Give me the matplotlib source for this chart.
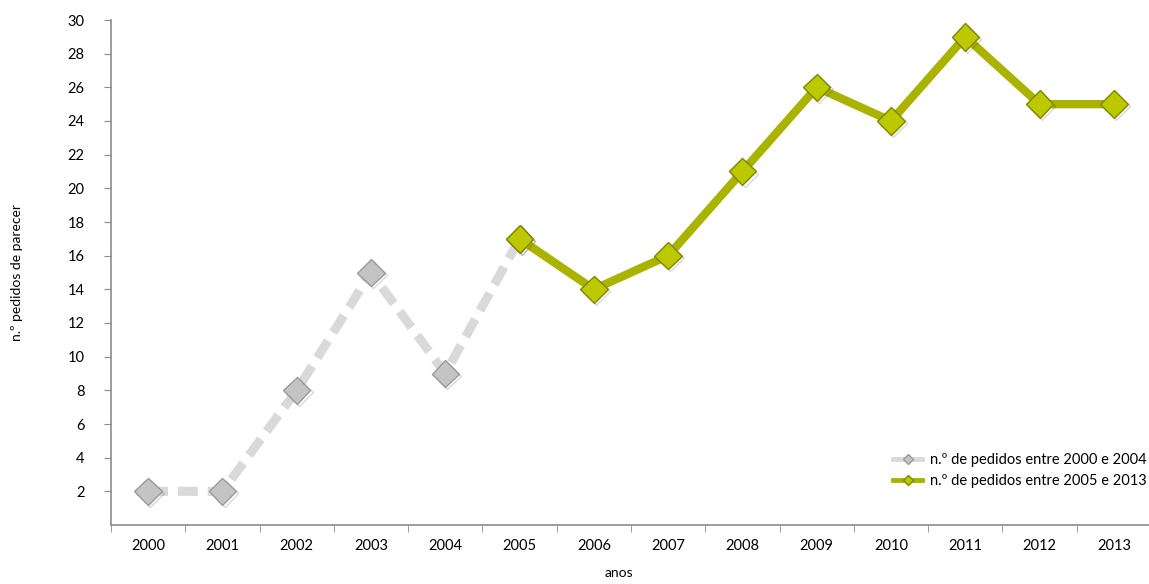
import matplotlib.pyplot as plt
import matplotlib.patheffects as pe

anos = ['2000', '2001', '2002', '2003', '2004', '2005', '2006',
        '2007', '2008', '2009', '2010', '2011', '2012', '2013']

# first period: 2000 to 2005 (joins the second series at 2005)
pedidos_antes = [2, 2, 8, 15, 9, 17]
# second period: 2005 to 2013
pedidos_depois = [17, 14, 16, 21, 26, 24, 29, 25, 25]

yticks = list(range(2, 31, 2))

plt.rcParams['font.family'] = ['Lato', 'DejaVu Sans']
fs = 10.5

fig = plt.figure(figsize=(11.49, 5.84), dpi=100)
ax = fig.add_axes([111 / 1149, 59 / 584, 1040 / 1149, 505 / 584])

x1 = list(range(len(pedidos_antes)))
x2 = list(range(5, 5 + len(pedidos_depois)))

shadow = [pe.SimpleLineShadow(offset=(1.5, -1.5), alpha=0.15, shadow_color='k'), pe.Normal()]

ax.plot(x1, pedidos_antes, color='#d9d9d9', lw=6.5, dashes=(2.2, 1.1),
        solid_capstyle='butt', zorder=2)
ax.plot(x1, pedidos_antes, ls='none', marker='D', ms=14, mfc='#c4c4c4',
        mec='#9a9a9a', mew=1, zorder=3, path_effects=shadow)

ax.plot(x2, pedidos_depois, color='#a9b300', lw=6, solid_joinstyle='miter', zorder=4)
ax.plot(x2, pedidos_depois, ls='none', marker='D', ms=14, mfc='#bcc800',
        mec='#7f8700', mew=1, zorder=5, path_effects=shadow)

ax.set_xlim(-0.5, 13.5)
ax.set_ylim(0, 30)
ax.set_yticks(yticks)
ax.set_yticklabels([str(v) for v in yticks])
ax.set_xticks(range(len(anos)))
ax.set_xticklabels(anos)
ax.set_xticks([i - 0.5 for i in range(len(anos) + 1)], minor=True)

for s in ['top', 'right']:
    ax.spines[s].set_visible(False)
for s in ['left', 'bottom']:
    ax.spines[s].set_color('#8c8c8c')
    ax.spines[s].set_linewidth(1.2)

ax.tick_params(axis='x', which='major', length=0, pad=10, labelsize=fs)
ax.tick_params(axis='x', which='minor', length=5, color='#8c8c8c')
ax.tick_params(axis='y', length=5, color='#8c8c8c', labelsize=fs, pad=14)

# x axis title sits close to the bottom edge
fig.text(619 / 1149, 1 - 573 / 584, 'anos', fontsize=fs - 0.5,
         ha='center', va='center')
ax.set_ylabel('n.º pedidos de parecer', fontsize=fs - 0.5, labelpad=32)

# legend handles: thin line with a small diamond
h1 = plt.Line2D([], [], color='#d9d9d9', lw=3.5, marker='D', ms=5,
                mfc='#c4c4c4', mec='#9a9a9a')
h2 = plt.Line2D([], [], color='#a9b300', lw=3.5, marker='D', ms=5,
                mfc='#bcc800', mec='#7f8700')
fig.legend([h1, h2],
           ['n.º de pedidos entre 2000 e 2004', 'n.º de pedidos entre 2005 e 2013'],
           loc='upper left', bbox_to_anchor=(880 / 1149, 1 - 440 / 584),
           frameon=False, fontsize=10.5, handlelength=2.0, handletextpad=0.5,
           labelspacing=0.5)

fig.savefig('out.png', dpi=100)
